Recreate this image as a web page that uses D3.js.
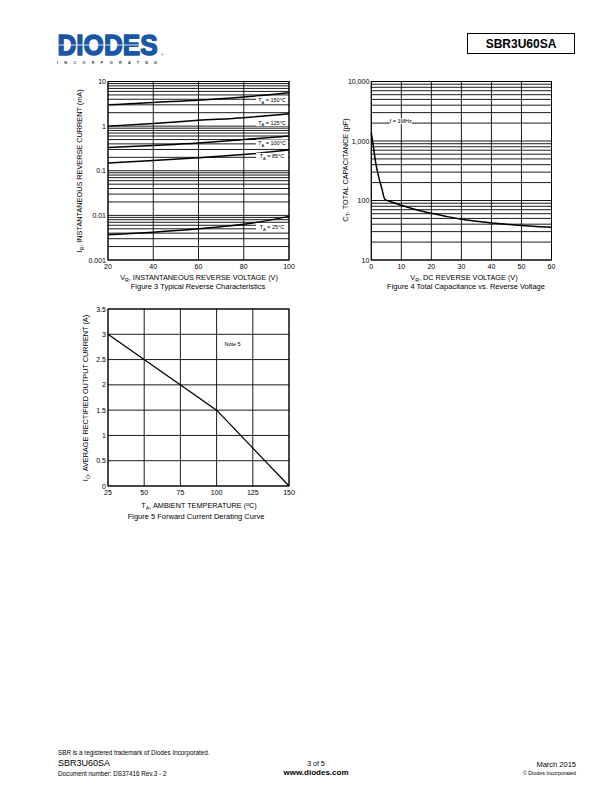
<!DOCTYPE html>
<html><head><meta charset="utf-8">
<script src="https://cdn.jsdelivr.net/npm/d3@7"></script>
<style>body{margin:0;background:#fff} svg{display:block} text{font-family:"Liberation Sans",Arial,sans-serif;fill:#000}</style>
</head><body><svg id="c" width="612" height="792"></svg>
<script>
// ---------- Figure 3: typical reverse characteristics ----------
const fig3Voltage = [20, 40, 60, 80, 100];
const fig3Temps = ["150°C", "125°C", "100°C", "85°C", "25°C"];
const fig3I150 = [3.0, 3.4, 3.8, 4.5, 5.6];
const fig3I125 = [1.0, 1.15, 1.35, 1.55, 1.9];
const fig3I100 = [0.33, 0.37, 0.42, 0.5, 0.6];
const fig3I85 = [0.15, 0.17, 0.195, 0.23, 0.29];
const fig3I25 = [0.0037, 0.0042, 0.005, 0.0063, 0.0095];
const fig3LabelValue = [3.8, 1.2, 0.42, 0.21, 0.0055]; // label anchor (mA)
const fig3XTicks = [20, 40, 60, 80, 100];
const fig3YTicks = [0.001, 0.01, 0.1, 1, 10];
const fig3YTickLabels = ["0.001", "0.01", "0.1", "1", "10"];

// ---------- Figure 4: total capacitance vs reverse voltage ----------
const fig4Voltage = [0, 0.5, 1, 1.5, 2.5, 3.5, 4.5, 6, 8, 10, 15, 20, 25, 30, 35, 40, 45, 50, 55, 60];
const fig4Cap = [1350, 950, 620, 420, 245, 160, 105, 97, 90, 83, 70, 61, 54, 48.5, 45, 42, 40, 38, 36.5, 35.5];
const fig4XTicks = [0, 10, 20, 30, 40, 50, 60];
const fig4YTicks = [10, 100, 1000, 10000];
const fig4YTickLabels = ["10", "100", "1,000", "10,000"];

// ---------- Figure 5: forward current derating ----------
const fig5Temp = [25, 100, 150];
const fig5Current = [3, 1.5, 0];
const fig5XTicks = [25, 50, 75, 100, 125, 150];
const fig5YTicks = [0, 0.5, 1, 1.5, 2, 2.5, 3, 3.5];
const fig5YTickLabels = ["0", "0.5", "1", "1.5", "2", "2.5", "3", "3.5"];

const svg = d3.select("#c");
svg.append("rect").attr("width", 612).attr("height", 792).attr("fill", "#fff");

// ---------- Header ----------
const logo = svg.append("g");
logo.append("text").attr("transform", "translate(57.5,54.5) scale(0.87,1)")
  .attr("font-size", 30).attr("font-weight", "bold").style("fill", "#1a56a3")
  .attr("stroke", "#1a56a3").attr("stroke-width", 1.6).attr("stroke-linejoin", "round").text("DIODES");
logo.append("line").attr("x1", 57).attr("x2", 140).attr("y1", 45).attr("y2", 45).attr("stroke", "#fff").attr("stroke-width", 0.8);
logo.append("text").attr("x", 161).attr("y", 55.5).attr("font-size", 3.5).style("fill", "#1a56a3").text("®");
logo.append("text").attr("x", 57).attr("y", 64).attr("textLength", 100).attr("lengthAdjust", "spacing")
  .attr("font-size", 3.8).attr("font-weight", "bold").style("fill", "#333").text("INCORPORATED");

svg.append("rect").attr("x", 467.5).attr("y", 33.5).attr("width", 107).attr("height", 20).attr("fill", "none").attr("stroke", "#000").attr("stroke-width", 1);
svg.append("text").attr("x", 521).attr("y", 48).attr("text-anchor", "middle").attr("font-size", 12).attr("font-weight", "bold").text("SBR3U60SA");

// ---------- helpers ----------
function gridPanel(g, x, y, xGrid, yGrid) {
  const [x0, x1] = x.range();
  const [y0, y1] = y.range();
  g.selectAll(null).data(xGrid).join("line")
    .attr("x1", d => x(d)).attr("x2", d => x(d)).attr("y1", y0).attr("y2", y1)
    .attr("stroke", "#000").attr("stroke-width", 0.9);
  g.selectAll(null).data(yGrid).join("line")
    .attr("x1", x0).attr("x2", x1).attr("y1", d => y(d)).attr("y2", d => y(d))
    .attr("stroke", "#000").attr("stroke-width", 0.9);
  g.append("rect").attr("x", x0).attr("y", y1).attr("width", x1 - x0).attr("height", y0 - y1)
    .attr("fill", "none").attr("stroke", "#000").attr("stroke-width", 1);
}
function tickLabels(g, x, y, xTicks, xLabels, yTicks, yLabels, fs) {
  const [x0] = x.range();
  const [y0] = y.range();
  g.selectAll(null).data(xTicks).join("text")
    .attr("x", d => x(d)).attr("y", y0 + 9).attr("text-anchor", "middle").attr("font-size", fs)
    .text((d, i) => xLabels[i]);
  g.selectAll(null).data(yTicks).join("text")
    .attr("x", x0 - 2).attr("y", d => y(d) + 2.5).attr("text-anchor", "end").attr("font-size", fs)
    .text((d, i) => yLabels[i]);
}
function subText(g, x, y, parts, fs, rotate, anchor) {
  const t = g.append("text").attr("font-size", fs).attr("text-anchor", anchor || "middle");
  if (rotate) t.attr("transform", `translate(${x},${y}) rotate(-90)`);
  else t.attr("x", x).attr("y", y);
  parts.forEach(p => {
    const s = t.append("tspan").text(p.t);
    if (p.sub) s.attr("font-size", fs * 0.72).attr("dy", fs * 0.3);
    if (p.after) s.attr("dy", -fs * 0.3);
  });
  return t;
}

// ---------- Figure 3 ----------
{
  const g = svg.append("g");
  const x = d3.scaleLinear().domain([20, 100]).range([108, 289]);
  const y = d3.scaleLog().domain([0.001, 10]).range([260, 81.5]);
  gridPanel(g, x, y, fig3XTicks, y.ticks());
  tickLabels(g, x, y, fig3XTicks, fig3XTicks.map(String), fig3YTicks, fig3YTickLabels, 7);
  const series = [fig3I150, fig3I125, fig3I100, fig3I85, fig3I25];
  const line = d3.line().x((d, i) => x(fig3Voltage[i])).y(d => y(d)).curve(d3.curveMonotoneX);
  series.forEach(s => g.append("path").attr("d", line(s)).attr("fill", "none").attr("stroke", "#000").attr("stroke-width", 1.5));
  fig3Temps.forEach((t, i) => {
    const cx = x(92.5), cy = y(fig3LabelValue[i]);
    g.append("rect").attr("x", cx - 16).attr("y", cy - 3.5).attr("width", 32).attr("height", 7).attr("fill", "#fff");
    subText(g, cx, cy + 2, [{t: "T"}, {t: "A", sub: true}, {t: " = " + t, after: true}], 5.5);
  });
  subText(g, 199, 280, [{t: "V"}, {t: "R", sub: true}, {t: ", INSTANTANEOUS REVERSE VOLTAGE (V)", after: true}], 7.3);
  g.append("text").attr("x", 198).attr("y", 289).attr("text-anchor", "middle").attr("font-size", 7.5).text("Figure 3 Typical Reverse Characteristics");
  subText(g, 82, 171, [{t: "I"}, {t: "R", sub: true}, {t: ", INSTANTANEOUS REVERSE CURRENT (mA)", after: true}], 7.3, true);
}

// ---------- Figure 4 ----------
{
  const g = svg.append("g");
  const x = d3.scaleLinear().domain([0, 60]).range([371.3, 551.5]);
  const y = d3.scaleLog().domain([10, 10000]).range([260, 81.5]);
  gridPanel(g, x, y, fig4XTicks, y.ticks());
  tickLabels(g, x, y, fig4XTicks, fig4XTicks.map(String), fig4YTicks, fig4YTickLabels, 7);
  const line = d3.line().x((d, i) => x(fig4Voltage[i])).y(d => y(d)).curve(d3.curveMonotoneX);
  g.append("path").attr("d", line(fig4Cap)).attr("fill", "none").attr("stroke", "#000").attr("stroke-width", 1.5);
  const lx = x(9.8), ly = y(2150);
  g.append("rect").attr("x", lx - 11).attr("y", ly - 3).attr("width", 22).attr("height", 6).attr("fill", "#fff");
  g.append("text").attr("x", lx).attr("y", ly + 2).attr("text-anchor", "middle").attr("font-size", 5.5).text("f = 1MHz");
  subText(g, 464, 280, [{t: "V"}, {t: "R", sub: true}, {t: ", DC REVERSE VOLTAGE (V)", after: true}], 7.3);
  g.append("text").attr("x", 466).attr("y", 289).attr("text-anchor", "middle").attr("font-size", 7.5).text("Figure 4 Total Capacitance vs. Reverse Voltage");
  subText(g, 348, 170, [{t: "C"}, {t: "T", sub: true}, {t: ", TOTAL CAPACITANCE (pF)", after: true}], 7.3, true);
}

// ---------- Figure 5 ----------
{
  const g = svg.append("g");
  const x = d3.scaleLinear().domain([25, 150]).range([108, 289]);
  const y = d3.scaleLinear().domain([0, 3.5]).range([486, 309]);
  gridPanel(g, x, y, fig5XTicks, fig5YTicks);
  tickLabels(g, x, y, fig5XTicks, fig5XTicks.map(String), fig5YTicks, fig5YTickLabels, 7);
  const line = d3.line().x((d, i) => x(fig5Temp[i])).y(d => y(d));
  g.append("path").attr("d", line(fig5Current)).attr("fill", "none").attr("stroke", "#000").attr("stroke-width", 1.3);
  g.append("text").attr("x", x(111)).attr("y", y(2.8) + 2).attr("text-anchor", "middle").attr("font-size", 5.5).text("Note 5");
  const t = subText(g, 199, 508, [{t: "T"}, {t: "A", sub: true}, {t: ", AMBIENT TEMPERATURE (", after: true}], 7.3);
  t.append("tspan").attr("font-size", 5).attr("dy", -2.5).text("o");
  t.append("tspan").attr("dy", 2.5).text("C)");
  g.append("text").attr("x", 196).attr("y", 519).attr("text-anchor", "middle").attr("font-size", 7.5).text("Figure 5 Forward Current Derating Curve");
  subText(g, 88, 398, [{t: "I"}, {t: "O", sub: true}, {t: ", AVERAGE RECTIFIED OUTPUT CURRENT (A)", after: true}], 7.3, true);
}

// ---------- Footer ----------
svg.append("text").attr("x", 58).attr("y", 755).attr("font-size", 6.3).text("SBR is a registered trademark of Diodes Incorporated.");
svg.append("text").attr("x", 58).attr("y", 766).attr("font-size", 9).text("SBR3U60SA");
svg.append("text").attr("x", 58).attr("y", 776).attr("font-size", 6.3).text("Document number: DS37416  Rev.3 - 2");
svg.append("text").attr("x", 316).attr("y", 766).attr("text-anchor", "middle").attr("font-size", 7).text("3 of 5");
svg.append("text").attr("x", 316).attr("y", 775).attr("text-anchor", "middle").attr("font-size", 8).attr("font-weight", "bold").text("www.diodes.com");
svg.append("text").attr("x", 576).attr("y", 767).attr("text-anchor", "end").attr("font-size", 7.5).text("March 2015");
svg.append("text").attr("x", 576).attr("y", 774.5).attr("text-anchor", "end").attr("font-size", 5.3).text("© Diodes Incorporated");
</script></body></html>
